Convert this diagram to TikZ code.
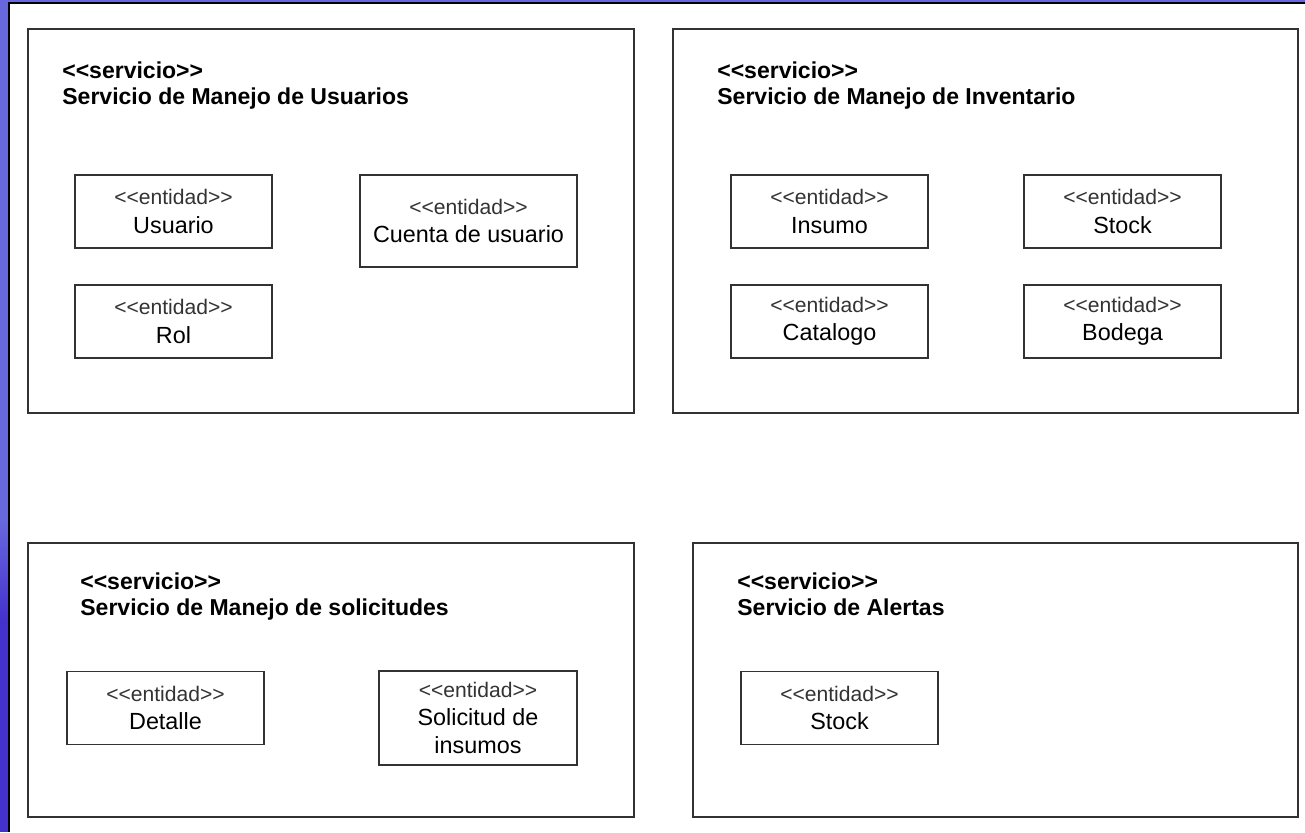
\documentclass[tikz,border=0pt]{standalone}
\usepackage{fontspec}
\newfontfamily\diagfont{Liberation Sans}
\usetikzlibrary{positioning}
\definecolor{bandlight}{RGB}{104,104,222}
\definecolor{banddark}{RGB}{68,50,204}
\definecolor{borde}{RGB}{50,50,50}
\newcommand{\estereo}[1]{{\fontsize{12}{16.2}\selectfont\color{black!80}<<#1>>}}
\tikzset{
  caja/.style={draw=borde, line width=0.9pt},
  entidad/.style={draw=borde, line width=0.9pt, fill=white, inner sep=0pt,
    minimum width=3.94cm, minimum height=1.46cm, align=center,
    font=\diagfont\fontsize{13.3}{16.2}\selectfont},
  titulo/.style={anchor=north west, inner sep=0pt, align=left,
    font=\diagfont\bfseries\fontsize{13.1}{14.8}\selectfont}
}
\begin{document}
\begin{tikzpicture}[x=0.02cm, y=-0.02cm]
	\useasboundingbox (0,0) rectangle (1305,832);
	% fondo y franja
	\fill[bandlight] (0,0) rectangle (1305,832);
	\shade[top color=bandlight, bottom color=banddark] (0,520) rectangle (9,620);
	\fill[banddark] (0,620) rectangle (9,832);
	\fill[white] (9,3) rectangle (1305,832);
	\draw[black, line width=0.9pt] (9,832) -- (9,3) -- (1305,3);

	% servicios
	\draw[caja] (28,29) rectangle (634,413);
	\draw[caja] (673,29) rectangle (1298,413);
	\draw[caja] (28,543) rectangle (634,817);
	\draw[caja] (693,543) rectangle (1298,817);

	\node[titulo] (tusuarios) at (62,61) {<<servicio>>\\Servicio de Manejo de Usuarios};
	\node[titulo] (tinventario) at (717,61) {<<servicio>>\\Servicio de Manejo de Inventario};
	\node[titulo] (tsolicitudes) at (80,572) {<<servicio>>\\Servicio de Manejo de solicitudes};
	\node[titulo] (talertas) at (737,572) {<<servicio>>\\Servicio de Alertas};

	% entidades
	\node[entidad] (usuario) at (173.5,211.5) {\estereo{entidad}\\Usuario};
	\node[entidad] (rol) at (173.5,321.5) {\estereo{entidad}\\Rol};
	\node[entidad, minimum width=4.34cm, minimum height=1.84cm] (cuenta) at (468.5,221) {\estereo{entidad}\\Cuenta de usuario};

	\node[entidad] (insumo) at (829.5,211.5) {\estereo{entidad}\\Insumo};
	\node[entidad] (stock) at (1122.5,211.5) {\estereo{entidad}\\Stock};
	\node[entidad] (catalogo) at (829.5,321.5) {\estereo{entidad}\\Catalogo};
	\node[entidad] (bodega) at (1122.5,321.5) {\estereo{entidad}\\Bodega};

	\node[entidad] (detalle) at (165.5,708) {\estereo{entidad}\\Detalle};
	\node[entidad, minimum width=3.96cm, minimum height=1.88cm] (solicitud) at (478,718) {\estereo{entidad}\\Solicitud de\\insumos};

	\node[entidad] (stockalerta) at (839.5,708) {\estereo{entidad}\\Stock};
\end{tikzpicture}
\end{document}
